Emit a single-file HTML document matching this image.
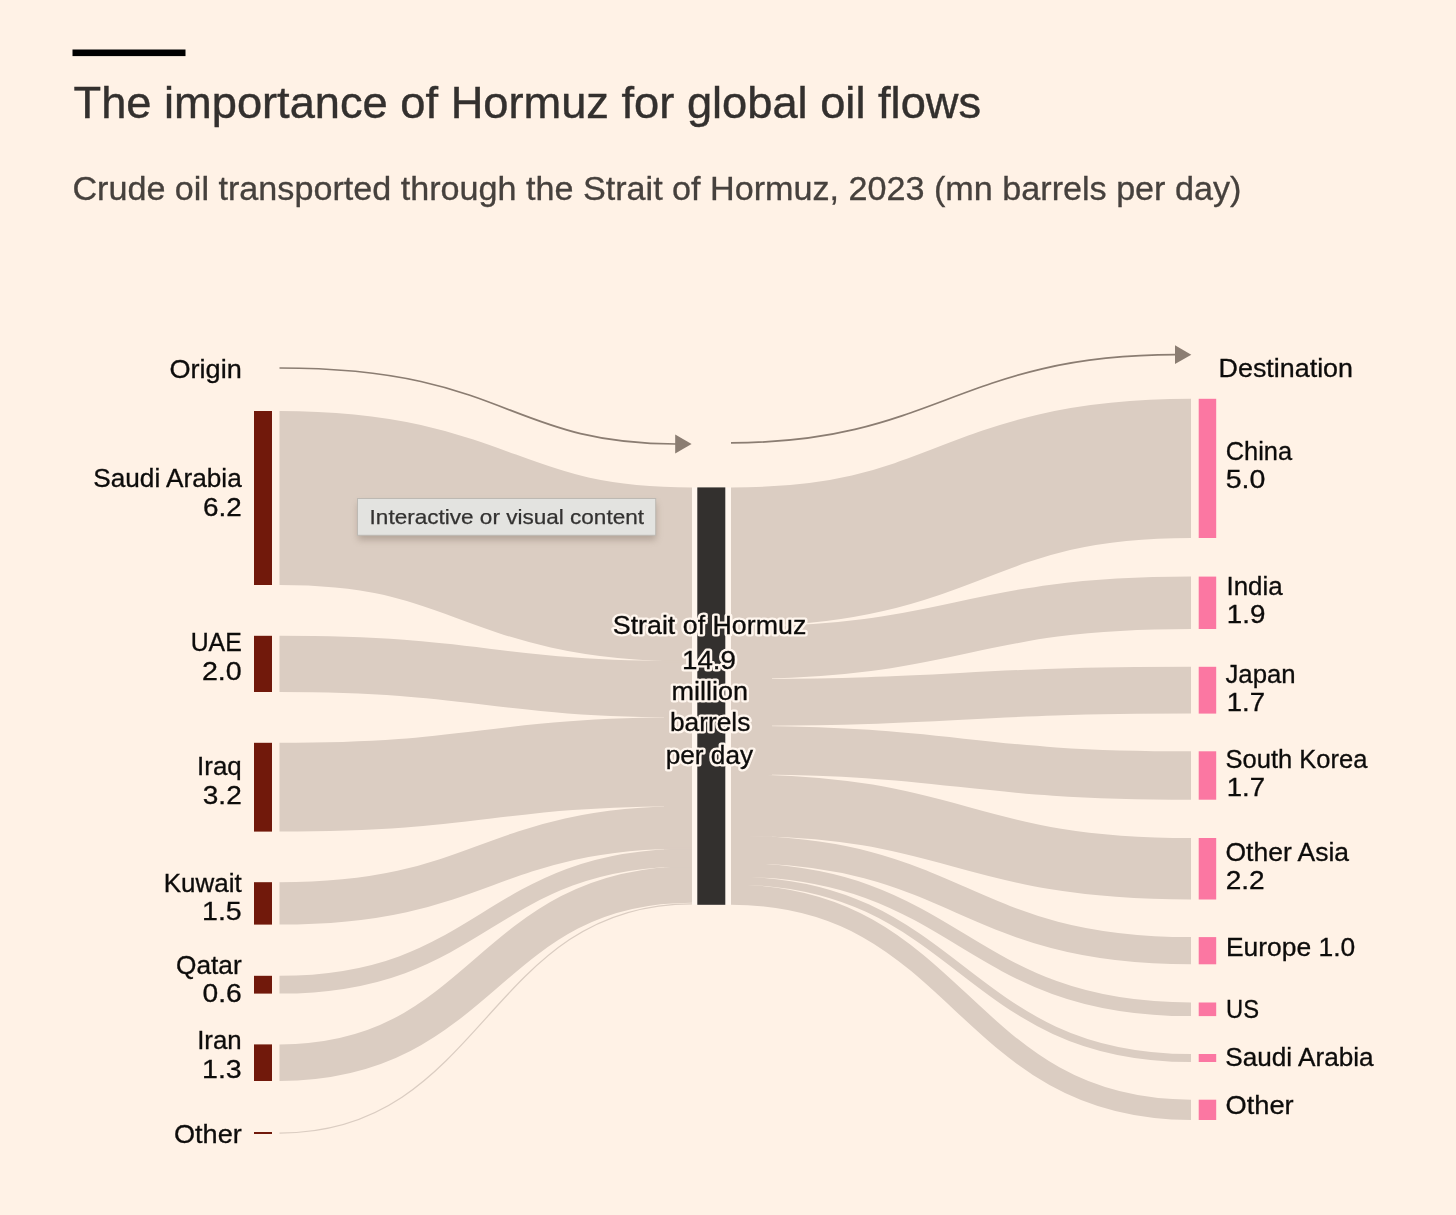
<!DOCTYPE html>
<html lang="en">
<head>
<meta charset="utf-8">
<title>The importance of Hormuz for global oil flows</title>
<style>
html,body{margin:0;padding:0;background:#fff2e6;}
body{width:1456px;height:1215px;overflow:hidden;font-family:"Liberation Sans",sans-serif;}
svg{display:block;font-family:"Liberation Sans",sans-serif;will-change:transform;}
</style>
</head>
<body>
<svg width="1456" height="1215" viewBox="0 0 1456 1215">
<rect width="1456" height="1215" fill="#fff2e6"/>
<g fill="none" stroke="#dbcdc2">
<path d="M279.5,498.00C485.8,498.00 485.8,574.40 692.0,574.40" stroke-width="174.00"/>
<path d="M279.5,663.90C485.8,663.90 485.8,689.36 692.0,689.36" stroke-width="56.20"/>
<path d="M279.5,787.20C485.8,787.20 485.8,761.77 692.0,761.77" stroke-width="88.80"/>
<path d="M279.5,903.40C485.8,903.40 485.8,827.29 692.0,827.29" stroke-width="42.40"/>
<path d="M279.5,984.70C485.8,984.70 485.8,857.36 692.0,857.36" stroke-width="17.80"/>
<path d="M279.5,1062.70C485.8,1062.70 485.8,884.52 692.0,884.52" stroke-width="36.60"/>
<path d="M279.5,1133.00C485.8,1133.00 485.8,903.80 692.0,903.80" stroke-width="1.25"/>
<path d="M664,661.29H692.0" stroke-width="2.2"/>
<path d="M664,717.42H692.0" stroke-width="2.2"/>
<path d="M664,806.12H692.0" stroke-width="2.2"/>
<path d="M664,848.47H692.0" stroke-width="2.2"/>
<path d="M664,866.25H692.0" stroke-width="2.2"/>
<path d="M731.0,557.08C961.0,557.08 961.0,468.40 1191.0,468.40" stroke-width="139.20"/>
<path d="M731.0,652.86C961.0,652.86 961.0,602.80 1191.0,602.80" stroke-width="52.40"/>
<path d="M731.0,702.45C961.0,702.45 961.0,690.20 1191.0,690.20" stroke-width="46.80"/>
<path d="M731.0,750.04C961.0,750.04 961.0,775.50 1191.0,775.50" stroke-width="48.40"/>
<path d="M731.0,804.97C961.0,804.97 961.0,868.75 1191.0,868.75" stroke-width="61.50"/>
<path d="M731.0,849.31C961.0,849.31 961.0,950.70 1191.0,950.70" stroke-width="27.20"/>
<path d="M731.0,869.71C961.0,869.71 961.0,1009.30 1191.0,1009.30" stroke-width="13.60"/>
<path d="M731.0,880.51C961.0,880.51 961.0,1058.00 1191.0,1058.00" stroke-width="8.00"/>
<path d="M731.0,894.65C961.0,894.65 961.0,1109.85 1191.0,1109.85" stroke-width="20.30"/>
<path d="M731.0,626.67H772" stroke-width="2.2"/>
<path d="M731.0,679.05H772" stroke-width="2.2"/>
<path d="M731.0,725.84H772" stroke-width="2.2"/>
<path d="M731.0,774.23H772" stroke-width="2.2"/>
<path d="M731.0,835.72H772" stroke-width="2.2"/>
<path d="M731.0,862.91H772" stroke-width="2.2"/>
<path d="M731.0,876.51H772" stroke-width="2.2"/>
<path d="M731.0,884.50H772" stroke-width="2.2"/>
</g>
<g fill="#71190b">
<rect x="254" y="411.0" width="18" height="174.0"/>
<rect x="254" y="635.8" width="18" height="56.2"/>
<rect x="254" y="742.8" width="18" height="88.8"/>
<rect x="254" y="882.2" width="18" height="42.4"/>
<rect x="254" y="975.8" width="18" height="17.8"/>
<rect x="254" y="1044.4" width="18" height="36.6"/>
<rect x="254" y="1132.0" width="18" height="2.0"/>
</g>
<rect x="692" y="487.5" width="39" height="417.3" fill="#fff6ee"/>
<rect x="697.3" y="487.4" width="28" height="417.4" fill="#33302e"/>
<g fill="#fb77a2">
<rect x="1198.7" y="398.8" width="17.5" height="139.2"/>
<rect x="1198.7" y="576.6" width="17.5" height="52.4"/>
<rect x="1198.7" y="666.8" width="17.5" height="46.8"/>
<rect x="1198.7" y="751.3" width="17.5" height="48.4"/>
<rect x="1198.7" y="838.0" width="17.5" height="61.5"/>
<rect x="1198.7" y="937.1" width="17.5" height="27.2"/>
<rect x="1198.7" y="1002.5" width="17.5" height="13.6"/>
<rect x="1198.7" y="1054.0" width="17.5" height="8.0"/>
<rect x="1198.7" y="1099.7" width="17.5" height="20.3"/>
</g>
<g fill="none" stroke="#8b7d72" stroke-width="1.7">
<path d="M279.5,368C506.8,368 506.3,444 676,444"/>
<path d="M731,442.8C935.8,442.8 958.9,354.7 1176,354.7"/>
</g>
<g fill="#8b7d72">
<path d="M675.2,434.6L691.6,444L675.2,453.4Z"/>
<path d="M1175,345.3L1191.3,354.7L1175,364.1Z"/>
</g>
<g stroke="#0d0c0b" stroke-width="0.3">
<text x="169.5" y="377.7" font-size="25.0" text-anchor="start" fill="#0d0c0b" textLength="72.2" lengthAdjust="spacingAndGlyphs">Origin</text>
<text x="93.3" y="487.2" font-size="25.0" text-anchor="start" fill="#0d0c0b" textLength="148.4" lengthAdjust="spacingAndGlyphs">Saudi Arabia</text>
<text x="203.0" y="515.9" font-size="25.0" text-anchor="start" fill="#0d0c0b" textLength="38.7" lengthAdjust="spacingAndGlyphs">6.2</text>
<text x="190.7" y="651.2" font-size="25.0" text-anchor="start" fill="#0d0c0b" textLength="51.0" lengthAdjust="spacingAndGlyphs">UAE</text>
<text x="201.9" y="679.6" font-size="25.0" text-anchor="start" fill="#0d0c0b" textLength="39.8" lengthAdjust="spacingAndGlyphs">2.0</text>
<text x="197.1" y="774.9" font-size="25.0" text-anchor="start" fill="#0d0c0b" textLength="44.6" lengthAdjust="spacingAndGlyphs">Iraq</text>
<text x="202.8" y="803.6" font-size="25.0" text-anchor="start" fill="#0d0c0b" textLength="38.9" lengthAdjust="spacingAndGlyphs">3.2</text>
<text x="163.8" y="891.8" font-size="25.0" text-anchor="start" fill="#0d0c0b" textLength="77.9" lengthAdjust="spacingAndGlyphs">Kuwait</text>
<text x="202.0" y="919.8" font-size="25.0" text-anchor="start" fill="#0d0c0b" textLength="39.7" lengthAdjust="spacingAndGlyphs">1.5</text>
<text x="176.0" y="973.5" font-size="25.0" text-anchor="start" fill="#0d0c0b" textLength="65.7" lengthAdjust="spacingAndGlyphs">Qatar</text>
<text x="202.5" y="1001.5" font-size="25.0" text-anchor="start" fill="#0d0c0b" textLength="39.2" lengthAdjust="spacingAndGlyphs">0.6</text>
<text x="197.2" y="1049.1" font-size="25.0" text-anchor="start" fill="#0d0c0b" textLength="44.5" lengthAdjust="spacingAndGlyphs">Iran</text>
<text x="202.0" y="1077.6" font-size="25.0" text-anchor="start" fill="#0d0c0b" textLength="39.7" lengthAdjust="spacingAndGlyphs">1.3</text>
<text x="174.0" y="1142.7" font-size="25.0" text-anchor="start" fill="#0d0c0b" textLength="67.7" lengthAdjust="spacingAndGlyphs">Other</text>
<text x="1218.6" y="376.9" font-size="25.0" text-anchor="start" fill="#0d0c0b" textLength="134.4" lengthAdjust="spacingAndGlyphs">Destination</text>
<text x="1225.7" y="459.9" font-size="25.0" text-anchor="start" fill="#0d0c0b" textLength="66.4" lengthAdjust="spacingAndGlyphs">China</text>
<text x="1225.7" y="488.0" font-size="25.0" text-anchor="start" fill="#0d0c0b" textLength="39.7" lengthAdjust="spacingAndGlyphs">5.0</text>
<text x="1226.5" y="594.9" font-size="25.0" text-anchor="start" fill="#0d0c0b" textLength="56.2" lengthAdjust="spacingAndGlyphs">India</text>
<text x="1226.8" y="623.3" font-size="25.0" text-anchor="start" fill="#0d0c0b" textLength="38.6" lengthAdjust="spacingAndGlyphs">1.9</text>
<text x="1225.5" y="682.8" font-size="25.0" text-anchor="start" fill="#0d0c0b" textLength="70.1" lengthAdjust="spacingAndGlyphs">Japan</text>
<text x="1226.8" y="711.0" font-size="25.0" text-anchor="start" fill="#0d0c0b" textLength="38.3" lengthAdjust="spacingAndGlyphs">1.7</text>
<text x="1225.5" y="767.9" font-size="25.0" text-anchor="start" fill="#0d0c0b" textLength="141.9" lengthAdjust="spacingAndGlyphs">South Korea</text>
<text x="1226.8" y="796.2" font-size="25.0" text-anchor="start" fill="#0d0c0b" textLength="38.3" lengthAdjust="spacingAndGlyphs">1.7</text>
<text x="1225.5" y="860.6" font-size="25.0" text-anchor="start" fill="#0d0c0b" textLength="123.6" lengthAdjust="spacingAndGlyphs">Other Asia</text>
<text x="1225.7" y="889.0" font-size="25.0" text-anchor="start" fill="#0d0c0b" textLength="39.0" lengthAdjust="spacingAndGlyphs">2.2</text>
<text x="1226.0" y="956.4" font-size="25.0" text-anchor="start" fill="#0d0c0b" textLength="129.2" lengthAdjust="spacingAndGlyphs">Europe 1.0</text>
<text x="1226.0" y="1018.0" font-size="25.0" text-anchor="start" fill="#0d0c0b" textLength="33.0" lengthAdjust="spacingAndGlyphs">US</text>
<text x="1225.3" y="1066.1" font-size="25.0" text-anchor="start" fill="#0d0c0b" textLength="148.3" lengthAdjust="spacingAndGlyphs">Saudi Arabia</text>
<text x="1225.5" y="1114.2" font-size="25.0" text-anchor="start" fill="#0d0c0b" textLength="68.1" lengthAdjust="spacingAndGlyphs">Other</text>
</g>
<g stroke="#fff6ee" stroke-width="5" stroke-linejoin="round" fill="#fff6ee">
<text x="612.8" y="634.3" font-size="25.0" text-anchor="start" fill="#0d0c0b" textLength="193.5" lengthAdjust="spacingAndGlyphs">Strait of Hormuz</text>
<text x="682.0" y="669.1" font-size="25.0" text-anchor="start" fill="#0d0c0b" textLength="54.0" lengthAdjust="spacingAndGlyphs">14.9</text>
<text x="671.4" y="699.8" font-size="25.0" text-anchor="start" fill="#0d0c0b" textLength="76.7" lengthAdjust="spacingAndGlyphs">million</text>
<text x="669.9" y="730.9" font-size="25.0" text-anchor="start" fill="#0d0c0b" textLength="80.5" lengthAdjust="spacingAndGlyphs">barrels</text>
<text x="665.7" y="764.2" font-size="25.0" text-anchor="start" fill="#0d0c0b" textLength="87.4" lengthAdjust="spacingAndGlyphs">per day</text>
</g>
<g stroke="#0d0c0b" stroke-width="0.3">
<text x="612.8" y="634.3" font-size="25.0" text-anchor="start" fill="#0d0c0b" textLength="193.5" lengthAdjust="spacingAndGlyphs">Strait of Hormuz</text>
<text x="682.0" y="669.1" font-size="25.0" text-anchor="start" fill="#0d0c0b" textLength="54.0" lengthAdjust="spacingAndGlyphs">14.9</text>
<text x="671.4" y="699.8" font-size="25.0" text-anchor="start" fill="#0d0c0b" textLength="76.7" lengthAdjust="spacingAndGlyphs">million</text>
<text x="669.9" y="730.9" font-size="25.0" text-anchor="start" fill="#0d0c0b" textLength="80.5" lengthAdjust="spacingAndGlyphs">barrels</text>
<text x="665.7" y="764.2" font-size="25.0" text-anchor="start" fill="#0d0c0b" textLength="87.4" lengthAdjust="spacingAndGlyphs">per day</text>
</g>
<rect x="72.5" y="49.5" width="113" height="6.6" fill="#000"/>
<text x="73.5" y="117.7" font-size="43.6" text-anchor="start" fill="#33302e" textLength="907.6" lengthAdjust="spacingAndGlyphs" stroke="#33302e" stroke-width="0.4">The importance of Hormuz for global oil flows</text>
<text x="72.4" y="199.6" font-size="32.3" text-anchor="start" fill="#46413d" textLength="1169.0" lengthAdjust="spacingAndGlyphs" stroke="#46413d" stroke-width="0.3">Crude oil transported through the Strait of Hormuz, 2023 (mn barrels per day)</text>
<defs><filter id="sh" x="-10%" y="-40%" width="120%" height="220%"><feGaussianBlur stdDeviation="3.5"/></filter></defs>
<rect x="358" y="503" width="298" height="37" fill="#6b5a4d" opacity="0.35" filter="url(#sh)"/>
<rect x="357.5" y="498.5" width="298.2" height="36.8" fill="#e3e3e0" stroke="#bdb9b3" stroke-width="1"/>
<text x="369.6" y="523.7" font-size="21" text-anchor="start" fill="#333231" textLength="274.4" lengthAdjust="spacingAndGlyphs" stroke="#333231" stroke-width="0.25">Interactive or visual content</text>
</svg>
</body>
</html>
